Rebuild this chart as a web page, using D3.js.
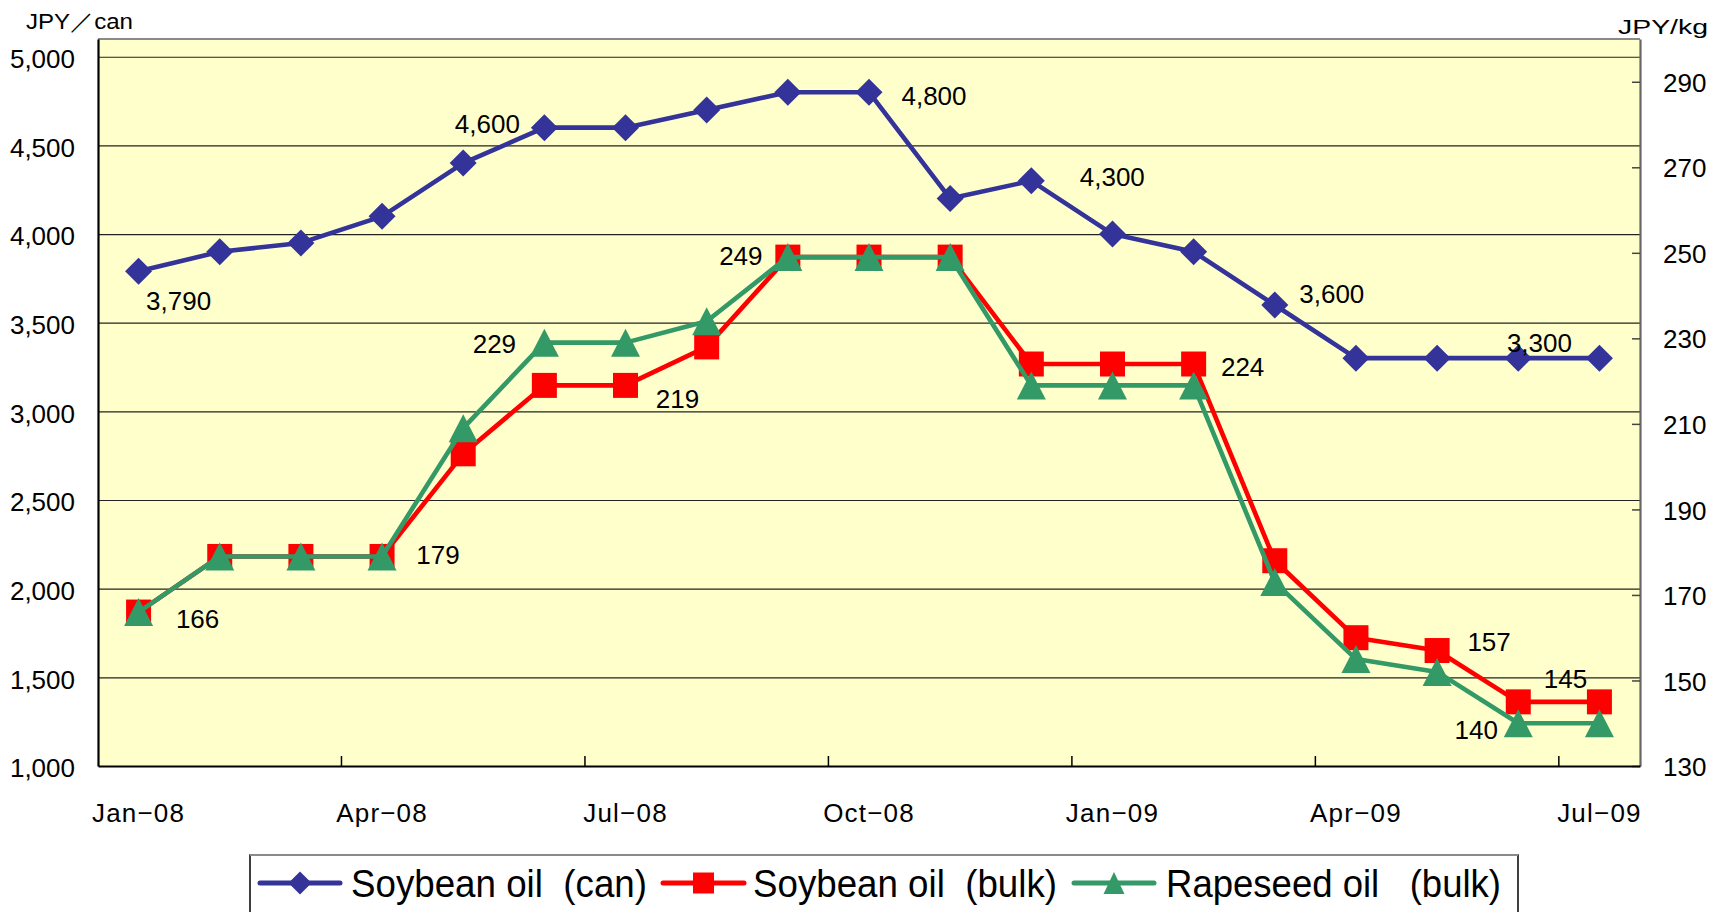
<!DOCTYPE html>
<html>
<head>
<meta charset="utf-8">
<script src="https://cdn.jsdelivr.net/npm/d3@7"></script>
<style>
  body { margin: 0; background: #ffffff; }
  svg { display: block; }
  text { font-family: "Liberation Sans", Arial, sans-serif; fill: #000; }
</style>
</head>
<body>
<svg id="chart" width="1713" height="912"></svg>
<script>
// ---------------- DATA ----------------
const months = ["Jan-08","Feb-08","Mar-08","Apr-08","May-08","Jun-08","Jul-08","Aug-08","Sep-08","Oct-08",
                "Nov-08","Dec-08","Jan-09","Feb-09","Mar-09","Apr-09","May-09","Jun-09","Jul-09"];
const soybeanCan  = [3790,3900,3950,4100,4400,4600,4600,4700,4800,4800,4200,4300,4000,3900,3600,3300,3300,3300,3300];
const soybeanBulk = [166,179,179,179,203,219,219,228,249,249,249,224,224,224,178,160,157,145,145];
const rapeseedBulk = [166,179,179,179,209,229,229,234,249,249,249,219,219,219,173,155,152,140,140];
const leftTicks  = [1000,1500,2000,2500,3000,3500,4000,4500,5000];
const rightTicks = [130,150,170,190,210,230,250,270,290];
const xTickLabels = ["Jan-08","Apr-08","Jul-08","Oct-08","Jan-09","Apr-09","Jul-09"];
const seriesNames = ["Soybean oil  (can)","Soybean oil  (bulk)","Rapeseed oil   (bulk)"];
const leftTitle = "JPY\uFF0Fcan";
const rightTitle = "JPY/kg";

// ---------------- LAYOUT ----------------
const plot = { left: 98, right: 1640, top: 39, bottom: 766 };
const colors = ["#333399", "#FF0000", "#339966"];

// data-label placement (series index, point index, label centre offset from the point)
const labelLayout = [
  { s: 0, i: 0,  dx: 40,  dy: 29 },
  { s: 0, i: 5,  dx: -57, dy: -4 },
  { s: 0, i: 9,  dx: 65,  dy: 3 },
  { s: 0, i: 11, dx: 81,  dy: -4 },
  { s: 0, i: 14, dx: 57,  dy: -11 },
  { s: 0, i: 18, dx: -60, dy: -16 },
  { s: 1, i: 0,  dx: 59,  dy: 7 },
  { s: 1, i: 3,  dx: 56,  dy: -2 },
  { s: 2, i: 5,  dx: -50, dy: 1 },
  { s: 1, i: 6,  dx: 52,  dy: 13 },
  { s: 1, i: 8,  dx: -47, dy: -1 },
  { s: 1, i: 13, dx: 49,  dy: 3 },
  { s: 1, i: 16, dx: 52,  dy: -9 },
  { s: 1, i: 18, dx: -34, dy: -23 },
  { s: 2, i: 17, dx: -42, dy: 6 }
];

const svg = d3.select("#chart");

const x = d3.scaleBand().domain(months).range([plot.left, plot.right]).padding(0);
const yL = d3.scaleLinear().domain([1000, 5100]).range([plot.bottom, plot.top]);
const yR = d3.scaleLinear().domain([130, 300]).range([plot.bottom, plot.top]);
const cx = m => x(m) + x.bandwidth() / 2;

// plot background
svg.append("rect")
  .attr("x", plot.left).attr("y", plot.top)
  .attr("width", plot.right - plot.left).attr("height", plot.bottom - plot.top)
  .attr("fill", "#FFFFCC");

// gridlines
const grid = svg.append("g").attr("transform", `translate(${plot.left},0)`)
  .call(d3.axisLeft(yL).tickValues(leftTicks.slice(1)).tickSize(-(plot.right - plot.left)).tickFormat(""));
grid.select(".domain").remove();
grid.selectAll("line").attr("stroke", "#222").attr("stroke-width", 1.2);

// plot border: top grey
svg.append("line").attr("x1", plot.left).attr("x2", plot.right).attr("y1", plot.top).attr("y2", plot.top)
  .attr("stroke", "#8a8a8a").attr("stroke-width", 2.2);

// left axis
const la = svg.append("g").attr("transform", `translate(${plot.left},0)`)
  .call(d3.axisLeft(yL).tickValues(leftTicks).tickFormat(d3.format(",")).tickSize(0).tickPadding(23));
la.select(".domain").attr("stroke", "#000").attr("stroke-width", 2.2);
la.selectAll("text").attr("font-size", 26).attr("dy", "0.42em")
  .style("font-family", '"Liberation Sans", Arial, sans-serif');

// right axis
const ra = svg.append("g").attr("transform", `translate(${plot.right},0)`)
  .call(d3.axisRight(yR).tickValues(rightTicks).tickSizeInner(-8).tickSizeOuter(0).tickPadding(23));
ra.select(".domain").attr("stroke", "#666").attr("stroke-width", 2.2);
ra.selectAll("line").attr("stroke", "#444").attr("stroke-width", 1.5);
ra.selectAll("text").attr("font-size", 26).attr("dy", "0.37em")
  .style("font-family", '"Liberation Sans", Arial, sans-serif');

// bottom axis (labels centred on categories)
const ba = svg.append("g").attr("transform", `translate(0,${plot.bottom})`)
  .call(d3.axisBottom(x).tickValues(xTickLabels).tickSize(0).tickPadding(38)
        .tickFormat(d => d.replace("-", "\u2212")));
ba.select(".domain").attr("stroke", "#000").attr("stroke-width", 2.2);
ba.selectAll("text").attr("font-size", 26).attr("letter-spacing", "1.2px")
  .style("font-family", '"Liberation Sans", Arial, sans-serif');

// tick marks at category boundaries every 3 months
svg.append("g").selectAll("line").data(xTickLabels.slice(1)).join("line")
  .attr("x1", d => x(d)).attr("x2", d => x(d))
  .attr("y1", plot.bottom).attr("y2", plot.bottom - 10)
  .attr("stroke", "#000").attr("stroke-width", 1.5);

// axis titles
svg.append("text").attr("x", 26).attr("y", 29).attr("font-size", 22)
  .attr("textLength", 107).attr("lengthAdjust", "spacingAndGlyphs").text(leftTitle);
svg.append("text").attr("x", 1618).attr("y", 34).attr("font-size", 20)
  .attr("textLength", 90).attr("lengthAdjust", "spacingAndGlyphs").text(rightTitle);

// ---------------- MARKERS ----------------
const diamond = h => `M0,${-h}L${h},0L0,${h}L${-h},0Z`;
const square = h => `M${-h},${-h}H${h}V${h}H${-h}Z`;
const triangle = (w, h) => `M0,${-h / 2}L${w / 2},${h / 2}L${-w / 2},${h / 2}Z`;

const series = [
  { name: seriesNames[0], values: soybeanCan,   y: yL, color: colors[0], shape: diamond(13.5), legendShape: diamond(11.5) },
  { name: seriesNames[1], values: soybeanBulk,  y: yR, color: colors[1], shape: square(12.5), legendShape: square(10.5) },
  { name: seriesNames[2], values: rapeseedBulk, y: yR, color: colors[2], shape: triangle(29, 28), legendShape: triangle(21, 22) }
];

series.forEach(s => {
  const line = d3.line().x((d, i) => cx(months[i])).y(d => s.y(d));
  svg.append("path").datum(s.values)
    .attr("d", line).attr("fill", "none")
    .attr("stroke", s.color).attr("stroke-width", 4.6).attr("stroke-linejoin", "round");
  svg.append("g").selectAll("path").data(s.values).join("path")
    .attr("d", s.shape)
    .attr("transform", (d, i) => `translate(${cx(months[i])},${s.y(d)})`)
    .attr("fill", s.color);
});

// ---------------- DATA LABELS ----------------
svg.append("g").selectAll("text").data(labelLayout).join("text")
  .attr("x", d => cx(months[d.i]) + d.dx)
  .attr("y", d => series[d.s].y(series[d.s].values[d.i]) + d.dy)
  .attr("text-anchor", "middle").attr("dy", "0.36em")
  .attr("font-size", 26)
  .text(d => d3.format(",")(series[d.s].values[d.i]));

// ---------------- LEGEND ----------------
const lg = svg.append("g");
lg.append("rect").attr("x", 250).attr("y", 855).attr("width", 1268).attr("height", 80)
  .attr("fill", "#fff").attr("stroke", "#000").attr("stroke-width", 1.5);
lg.append("line").attr("x1", 250).attr("x2", 1518).attr("y1", 855).attr("y2", 855)
  .attr("stroke", "#8a8a8a").attr("stroke-width", 2);

const legendItems = [
  { x0: 260, x1: 340, tx: 351, tw: 296 },
  { x0: 663, x1: 744, tx: 753, tw: 304 },
  { x0: 1074, x1: 1154, tx: 1166, tw: 335 }
];
series.forEach((s, k) => {
  const it = legendItems[k];
  const ly = 883;
  lg.append("line").attr("x1", it.x0).attr("x2", it.x1).attr("y1", ly).attr("y2", ly)
    .attr("stroke", s.color).attr("stroke-width", 5).attr("stroke-linecap", "round");
  lg.append("path").attr("d", s.legendShape)
    .attr("transform", `translate(${(it.x0 + it.x1) / 2},${ly})`).attr("fill", s.color);
  lg.append("text").attr("x", it.tx).attr("y", 897).attr("font-size", 38)
    .attr("xml:space", "preserve").style("white-space", "pre")
    .attr("textLength", it.tw).attr("lengthAdjust", "spacingAndGlyphs")
    .text(s.name);
});
</script>
</body>
</html>
